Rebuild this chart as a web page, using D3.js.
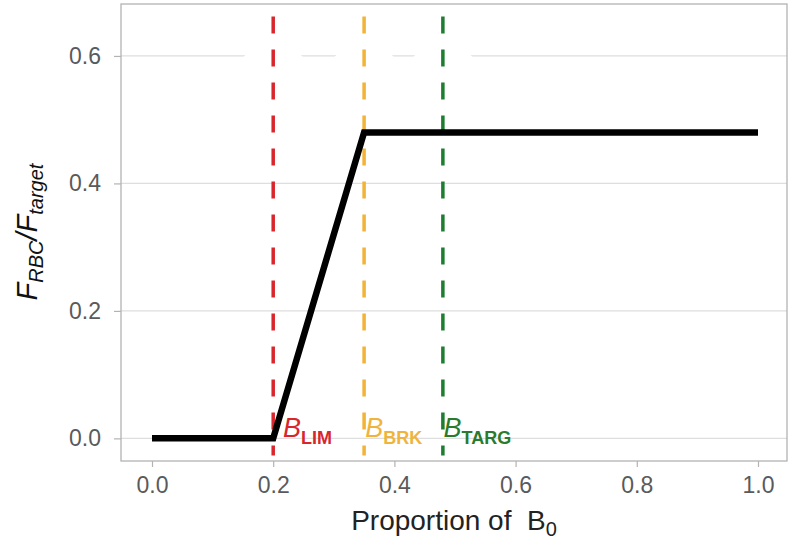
<!DOCTYPE html>
<html><head><meta charset="utf-8">
<script src="https://cdn.jsdelivr.net/npm/d3@7"></script>
<style>body{margin:0;background:#fff}svg{display:block}</style>
</head><body>
<svg id="c" width="792" height="542"></svg>
<script>
// ---- data ----
const hcrX = [0.0, 0.2, 0.35, 1.0];
const hcrY = [0.0, 0.0, 0.48, 0.48];
const refX = [0.2, 0.35, 0.48];
const refLineColors = ["#d9262c", "#f2b336", "#1d7e32"];
const refLabelColors = ["#d9262c", "#f0b43c", "#2a7b2c"];
const refSub = ["LIM", "BRK", "TARG"];
const refLabelX = [0.216, 0.352, 0.481];
const refTop = 0.662, refBottom = -0.027;
const markY = 0.605;
const xTicks = [0.0, 0.2, 0.4, 0.6, 0.8, 1.0];
const yTicks = [0.0, 0.2, 0.4, 0.6];

const svg = d3.select("#c");
const L = 121, R = 787, T = 4, B = 461;
const x = d3.scaleLinear().domain([-0.05, 1.05]).range([L + 0.7, R + 1.3]);
const y = d3.scaleLinear().domain([-0.0355, 0.6815]).range([B, T]);
const font = "Liberation Sans, Arial, sans-serif";

// gridlines
svg.append("g").selectAll("line").data(yTicks).join("line")
  .attr("x1", L).attr("x2", R).attr("y1", d => y(d)).attr("y2", d => y(d))
  .attr("stroke", "#dedede").attr("stroke-width", 1.2);

// white X artifacts
const xp = d3.path();
xp.moveTo(-18, -18); xp.lineTo(18, 18); xp.moveTo(-18, 18); xp.lineTo(18, -18);
svg.append("g").selectAll("path").data(refX).join("path")
  .attr("transform", d => `translate(${x(d)},${y(markY)})`)
  .attr("d", xp.toString()).attr("fill", "none")
  .attr("stroke", "#fff").attr("stroke-width", 36);

// panel border
svg.append("rect").attr("x", L).attr("y", T).attr("width", R - L).attr("height", B - T)
  .attr("fill", "none").attr("stroke", "#b3b3b3").attr("stroke-width", 1.3);

// reference dashed lines
svg.append("g").selectAll("line").data(refX).join("line")
  .attr("x1", d => x(d)).attr("x2", d => x(d))
  .attr("y1", y(refTop)).attr("y2", y(refBottom))
  .attr("stroke", (d, i) => refLineColors[i]).attr("stroke-width", 3.5)
  .attr("stroke-dasharray", "17,16");

// HCR line
svg.append("path").datum(hcrX.map((d, i) => [d, hcrY[i]]))
  .attr("d", d3.line().x(d => x(d[0])).y(d => y(d[1])))
  .attr("fill", "none").attr("stroke", "#000").attr("stroke-width", 6.5)
  .attr("stroke-linejoin", "miter");

// ref labels
const lab = svg.append("g").selectAll("text").data(refX).join("text")
  .attr("x", (d, i) => x(refLabelX[i])).attr("y", 437)
  .attr("fill", (d, i) => refLabelColors[i])
  .style("font-family", font);
lab.append("tspan").text("B").style("font-style", "italic").style("font-size", "27px");
lab.append("tspan").text((d, i) => refSub[i]).attr("dy", 7)
  .style("font-size", "18px").style("font-weight", "bold");

// axes
const xa = svg.append("g").attr("transform", `translate(0,${B})`)
  .call(d3.axisBottom(x).tickValues(xTicks).tickFormat(d3.format(".1f")).tickSize(6).tickPadding(10));
const ya = svg.append("g").attr("transform", `translate(${L},0)`)
  .call(d3.axisLeft(y).tickValues(yTicks).tickFormat(d3.format(".1f")).tickSize(7).tickPadding(13));
[xa, ya].forEach(a => {
  a.select(".domain").remove();
  a.selectAll(".tick line").attr("stroke", "#b3b3b3").attr("stroke-width", 1.2);
  a.selectAll(".tick text").attr("fill", "#5a5a5a").style("font-family", font).style("font-size", "23px");
});

// axis titles
const xt = svg.append("text").attr("x", 454).attr("y", 530).attr("text-anchor", "middle")
  .attr("fill", "#222").style("font-family", font).style("font-size", "28px")
  .style("white-space", "pre").attr("xml:space", "preserve");
xt.append("tspan").text("Proportion of  B");
xt.append("tspan").text("0").attr("dy", 6).style("font-size", "20px");

const yt = svg.append("text").attr("transform", "translate(37,232) rotate(-90)")
  .attr("text-anchor", "middle").attr("fill", "#111").style("font-family", font).style("font-size", "29px");
yt.append("tspan").text("F").style("font-style", "italic");
yt.append("tspan").text("RBC").attr("dy", 6).style("font-size", "20px").style("font-style", "italic");
yt.append("tspan").text("/F").attr("dy", -6).style("font-style", "italic");
yt.append("tspan").text("target").attr("dy", 6).style("font-size", "20px").style("font-style", "italic");
</script>
</body></html>
